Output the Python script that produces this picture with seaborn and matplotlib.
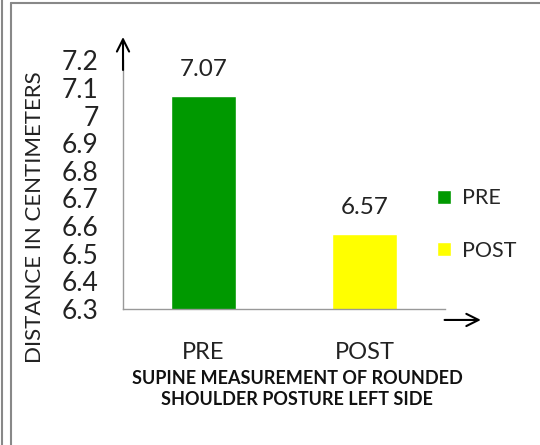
import matplotlib
matplotlib.use("Agg")
import matplotlib.pyplot as plt
from matplotlib.lines import Line2D
import seaborn as sns

categories = ["PRE", "POST"]
values = [7.07, 6.57]
colors = ["#009900", "#FFFF00"]
y_ticks = [6.3, 6.4, 6.5, 6.6, 6.7, 6.8, 6.9, 7.0, 7.1, 7.2]
y_tick_labels = ["6.3", "6.4", "6.5", "6.6", "6.7", "6.8", "6.9", "7", "7.1", "7.2"]

sns.set_style("white")
plt.rcParams["font.family"] = ["Lato", "DejaVu Sans"]

fig = plt.figure(figsize=(5.4, 4.45), dpi=100)
ax = fig.add_axes([0.2278, 0.3056, 0.5963, 0.5588])

sns.barplot(x=categories, y=values, hue=categories, palette=colors,
            width=0.4, legend=True, ax=ax, saturation=1)

ax.set_ylim(6.3, 7.2)
ax.set_xlim(-0.5, 1.5)
ax.set_yticks(y_ticks)
ax.set_yticklabels(y_tick_labels, fontsize=19, color="#222222")
ax.tick_params(axis="y", length=6.5, width=1, color="#999999", pad=11)

# category labels at centers, tick marks at boundaries
ax.set_xticks([0, 1])
ax.set_xticklabels(categories, fontsize=17, color="#222222")
ax.tick_params(axis="x", which="major", length=0, pad=24)
ax.set_xticks([-0.5, 0.5, 1.5], minor=True)
ax.tick_params(axis="x", which="minor", length=7, width=1, color="#999999")

for side in ["top", "right"]:
    ax.spines[side].set_visible(False)
for side in ["left", "bottom"]:
    ax.spines[side].set_color("#999999")
    ax.spines[side].set_linewidth(1)

for cont in ax.containers:
    ax.bar_label(cont, fmt="%.2f", padding=12, fontsize=17.5, color="#222222")

ax.set_ylabel("DISTANCE IN CENTIMETERS", fontsize=16, color="#222222")
ax.yaxis.set_label_coords(-0.243, 0.37)
ax.set_xlabel("SUPINE MEASUREMENT OF ROUNDED\nSHOULDER POSTURE LEFT SIDE",
              fontsize=13, fontweight="bold", color="#111111",
              linespacing=1.25)
ax.xaxis.set_label_coords(0.54, -0.247, transform=ax.transAxes)
ax.xaxis.label.set_verticalalignment("top")

# arrows on the axes
ax.annotate("", xy=(0, 1.105), xytext=(0, 0.95), xycoords="axes fraction",
            arrowprops=dict(arrowstyle="->", color="black", lw=1.5,
                            mutation_scale=22), annotation_clip=False)
ax.annotate("", xy=(1.12, -0.044), xytext=(0.99, -0.044), xycoords="axes fraction",
            arrowprops=dict(arrowstyle="->", color="black", lw=1.5,
                            mutation_scale=22), annotation_clip=False)

sns.move_legend(ax, "center left", bbox_to_anchor=(0.975, 0.34), frameon=False,
                title=None, fontsize=15.5, handlelength=0.65, handleheight=0.65,
                labelspacing=1.5, handletextpad=0.5, borderpad=0, borderaxespad=0)

# page borders
fig.add_artist(Line2D([1.5 / 540, 1.5 / 540], [0, 1], color="#888888", lw=1.5))
fig.add_artist(Line2D([11 / 540, 11 / 540], [0, 1 - 3 / 445], color="#888888", lw=1.5))
fig.add_artist(Line2D([11 / 540, 1], [1 - 3 / 445, 1 - 3 / 445], color="#888888", lw=1.5))

fig.savefig("out.png", dpi=100)
